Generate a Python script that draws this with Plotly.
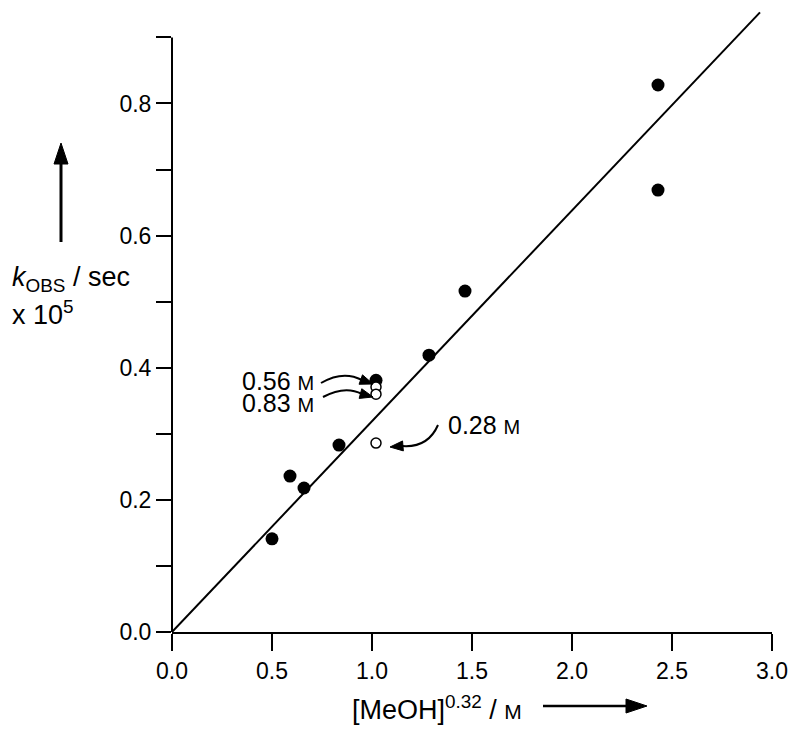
import plotly.graph_objects as go

# ---- data ----
filled_x = [0.50, 0.59, 0.66, 0.835, 1.02, 1.285, 1.465, 2.43, 2.43]
filled_y = [0.141, 0.236, 0.218, 0.283, 0.381, 0.419, 0.516, 0.828, 0.669]
open_x = [1.02, 1.02, 1.02]
open_y = [0.371, 0.360, 0.286]
open_labels = ["0.56", "0.83", "0.28"]
fit_x = [0.0, 2.94]
fit_y = [0.0, 0.938]
x_ticks = [0.0, 0.5, 1.0, 1.5, 2.0, 2.5, 3.0]
y_ticks = [0.0, 0.2, 0.4, 0.6, 0.8]
y_minor = [0.1, 0.3, 0.5, 0.7, 0.9]

# page has an 8px body margin; compensate so the plot lands where the reference has it
OFF = 8
W, H = 800 - OFF, 738 - OFF
PX0, PY0 = 172, 632          # window pixel of plot origin
PW, PH = 600, 621
L = PX0 - OFF
T = PY0 - PH - OFF
R = W - L - PW
B = H - T - PH
FONT = "Liberation Sans, Arial, sans-serif"
FS = 23


def P(px, py):
    """window pixel -> paper coordinates (for decorations only)"""
    return (px - PX0) / PW, (PY0 - py) / PH


def path(points, close=False, curve=False):
    pts = [P(*p) for p in points]
    if curve:
        (sx, sy), (cx, cy), (ex, ey) = pts
        return f"M {sx},{sy} Q {cx},{cy} {ex},{ey}"
    s = "M " + " L ".join(f"{x},{y}" for x, y in pts)
    return s + (" Z" if close else "")


fig = go.Figure()
fig.add_trace(go.Scatter(x=fit_x, y=fit_y, mode="lines",
                         line=dict(color="black", width=2), hoverinfo="skip"))
fig.add_trace(go.Scatter(x=filled_x, y=filled_y, mode="markers",
                         marker=dict(color="black", size=13, line=dict(width=0)),
                         cliponaxis=False))
fig.add_trace(go.Scatter(x=open_x, y=open_y, mode="markers",
                         marker=dict(color="white", size=10,
                                     line=dict(color="black", width=1.5)),
                         cliponaxis=False))

shapes = []
# custom y axis line (0 .. 0.9)
shapes.append(dict(type="line", xref="paper", yref="y", x0=0, x1=0, y0=0, y1=0.9,
                   line=dict(color="black", width=2)))


def curve_arrow(start, ctrl, end, tip):
    shapes.append(dict(type="path", xref="paper", yref="paper",
                       path=path([start, ctrl, end], curve=True),
                       line=dict(color="black", width=2)))
    ex, ey = end
    tx, ty = tip
    dx, dy = tx - ex, ty - ey
    n = (dx * dx + dy * dy) ** 0.5
    ux, uy = dx / n, dy / n
    bx, by = tx - ux * 13, ty - uy * 13
    wx, wy = -uy * 5, ux * 5
    shapes.append(dict(type="path", xref="paper", yref="paper",
                       path=path([(tx, ty), (bx + wx, by + wy), (bx - wx, by - wy)], close=True),
                       fillcolor="black", line=dict(color="black", width=1)))


curve_arrow((321, 383), (343, 370), (362, 380), (373, 384))
curve_arrow((323, 397), (345, 385), (362, 394), (373, 397))
curve_arrow((438, 425), (428, 448), (402, 446), (390, 447))

# y-title up arrow
x0, y0 = P(61, 242)
x1, y1 = P(61, 160)
shapes.append(dict(type="line", xref="paper", yref="paper", x0=x0, y0=y0, x1=x1, y1=y1,
                   line=dict(color="black", width=3)))
shapes.append(dict(type="path", xref="paper", yref="paper",
                   path=path([(61, 143), (54, 164), (68, 164)], close=True),
                   fillcolor="black", line=dict(color="black", width=1)))
# x-title right arrow
x0, y0 = P(543, 706)
x1, y1 = P(630, 706)
shapes.append(dict(type="line", xref="paper", yref="paper", x0=x0, y0=y0, x1=x1, y1=y1,
                   line=dict(color="black", width=2.5)))
shapes.append(dict(type="path", xref="paper", yref="paper",
                   path=path([(647, 706), (626, 699), (626, 713)], close=True),
                   fillcolor="black", line=dict(color="black", width=1)))

annotations = []


def text(px, py, s, xanchor="left", size=FS):
    x, y = P(px, py)
    annotations.append(dict(xref="paper", yref="paper", x=x, y=y, text=s,
                            showarrow=False, xanchor=xanchor, yanchor="middle",
                            font=dict(family=FONT, size=size, color="black")))


SM20 = "<span style='font-size:20px'>M</span>"
SM21 = "<span style='font-size:21px'>M</span>"
text(316, 381, f"{open_labels[0]} {SM20}", "right", 25)
text(316, 403, f"{open_labels[1]} {SM20}", "right", 25)
text(446, 425, f"{open_labels[2]} {SM20}", "left", 25)
text(10, 279, "<i>k</i><sub>OBS</sub> / sec", size=27)
text(10, 313, "x 10<sup>5</sup>", size=27)
text(350, 708, f"[MeOH]<sup>0.32</sup> / {SM21}", size=27)

fig.update_layout(
    width=W, height=H,
    margin=dict(l=L, r=R, t=T, b=B, pad=0),
    paper_bgcolor="white", plot_bgcolor="white",
    showlegend=False,
    font=dict(family=FONT, size=FS, color="black"),
    shapes=shapes, annotations=annotations,
    xaxis=dict(range=[0, 3], tickvals=x_ticks, tickformat=".1f",
               showgrid=False, zeroline=False, showline=True,
               linecolor="black", linewidth=2,
               ticks="outside", ticklen=17, tickwidth=2, tickcolor="black",
               tickfont=dict(family=FONT, size=FS)),
    yaxis=dict(range=[0, 0.94], tickvals=y_ticks, tickformat=".1f",
               showgrid=False, zeroline=False, showline=False,
               ticks="outside", ticklen=15, tickwidth=2, tickcolor="black",
               tickfont=dict(family=FONT, size=FS),
               minor=dict(tickvals=y_minor, ticks="outside", ticklen=15,
                          tickwidth=2, tickcolor="black")),
)

fig.write_html("out.html")
